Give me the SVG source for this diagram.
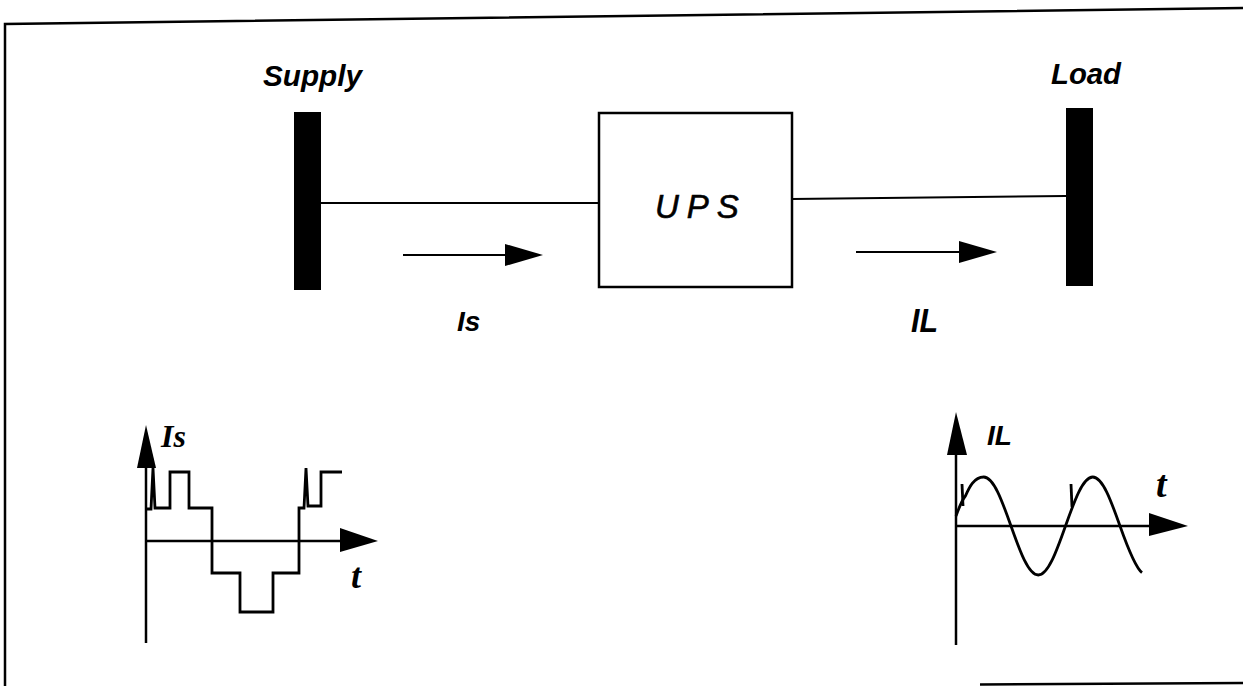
<svg xmlns="http://www.w3.org/2000/svg" width="1243" height="686" viewBox="0 0 1243 686">
<style>
.ln{stroke:#000;fill:none;stroke-width:2}
.ax{stroke:#000;fill:none;stroke-width:2.5}
.wv{stroke:#000;fill:none;stroke-width:2.8;stroke-linejoin:miter}
.hd{fill:#000;stroke:none}
.sans{font-family:"Liberation Sans",Arial,sans-serif;font-style:italic;font-weight:bold;fill:#000}
.serif{font-family:"Liberation Serif","Times New Roman",serif;font-style:italic;font-weight:bold;fill:#000}
</style>
<rect x="0" y="0" width="1243" height="686" fill="#fff"/>
<g id="frame">
<polyline class="ax" points="5,686 5,24 1243,8" stroke-width="3"/>
<line class="ax" x1="980" y1="684.5" x2="1243" y2="683" stroke-width="3"/>
</g>
<g id="supply">
<rect x="294" y="112" width="27" height="178" fill="#000"/>
<text class="sans" x="263" y="86" font-size="29" textLength="99" lengthAdjust="spacingAndGlyphs">Supply</text>
</g>
<g id="ups">
<rect x="599" y="113" width="193" height="174" fill="#fff" stroke="#000" stroke-width="2.5"/>
<text class="sans" x="655" y="218" font-size="33" style="font-weight:normal;stroke:#000;stroke-width:0.6" letter-spacing="8">UPS</text>
</g>
<g id="load">
<rect x="1066" y="108" width="27" height="178" fill="#000"/>
<text class="sans" x="1051" y="84" font-size="29" textLength="70" lengthAdjust="spacingAndGlyphs">Load</text>
</g>
<g id="connectors">
<line class="ln" x1="321" y1="203" x2="599" y2="203"/>
<line class="ln" x1="792" y1="199" x2="1066" y2="196"/>
<line class="ln" x1="403" y1="255" x2="506" y2="255"/>
<polygon class="hd" points="505,244 543,255 505,266"/>
<line class="ln" x1="856" y1="252" x2="960" y2="252"/>
<polygon class="hd" points="959,241 997,252 959,263"/>
</g>
<g id="label-is">
<text class="sans" x="457" y="331" font-size="28">Is</text>
</g>
<g id="label-il">
<text class="sans" x="911" y="332" font-size="34" textLength="27" lengthAdjust="spacingAndGlyphs">IL</text>
</g>
<g id="graph-is">
<line class="ax" x1="146" y1="643" x2="146" y2="460"/>
<polygon class="hd" points="146,425 156,468 137,468"/>
<line class="ax" x1="146" y1="541" x2="342" y2="541"/>
<polygon class="hd" points="340,528 378,541 340,552"/>
<polyline class="wv" points="146,509 151,509 153,468 155,508 170,508 170,472 189,472 189,508 212,508 212,573 240,573 240,612 273,612 273,573 299,573 299,508 304,508 306,468 308,506 321,506 321,472 342,472"/>
<text class="serif" x="161" y="447" font-size="32">Is</text>
<text class="serif" x="351" y="588" font-size="36">t</text>
</g>
<g id="graph-il">
<line class="ax" x1="956" y1="645" x2="956" y2="450"/>
<polygon class="hd" points="956,412 967,455 947,455"/>
<line class="ax" x1="956" y1="526" x2="1151" y2="526"/>
<polygon class="hd" points="1149,513 1188,526 1149,536"/>
<path class="wv" d="M956,516 C960,505 962,500 965.4,496 C969,488 973.9,477 983.75,477 C993.6,477 1002.1,500.9 1011,526 C1019.9,551.1 1028.4,575 1038.25,575 C1048.1,575 1056.6,551.1 1065.5,526 C1074.4,500.9 1082.9,477 1092.75,477 C1102.6,477 1111.1,500.9 1120,526 C1128.9,551.1 1136,568 1142,572.6"/>
<line class="wv" x1="962" y1="484" x2="963" y2="506"/>
<line class="wv" x1="1071" y1="484" x2="1072" y2="507"/>
<text class="sans" x="987" y="445" font-size="27" textLength="25" lengthAdjust="spacingAndGlyphs">IL</text>
<text class="serif" x="1156" y="497" font-size="38">t</text>
</g>
</svg>
